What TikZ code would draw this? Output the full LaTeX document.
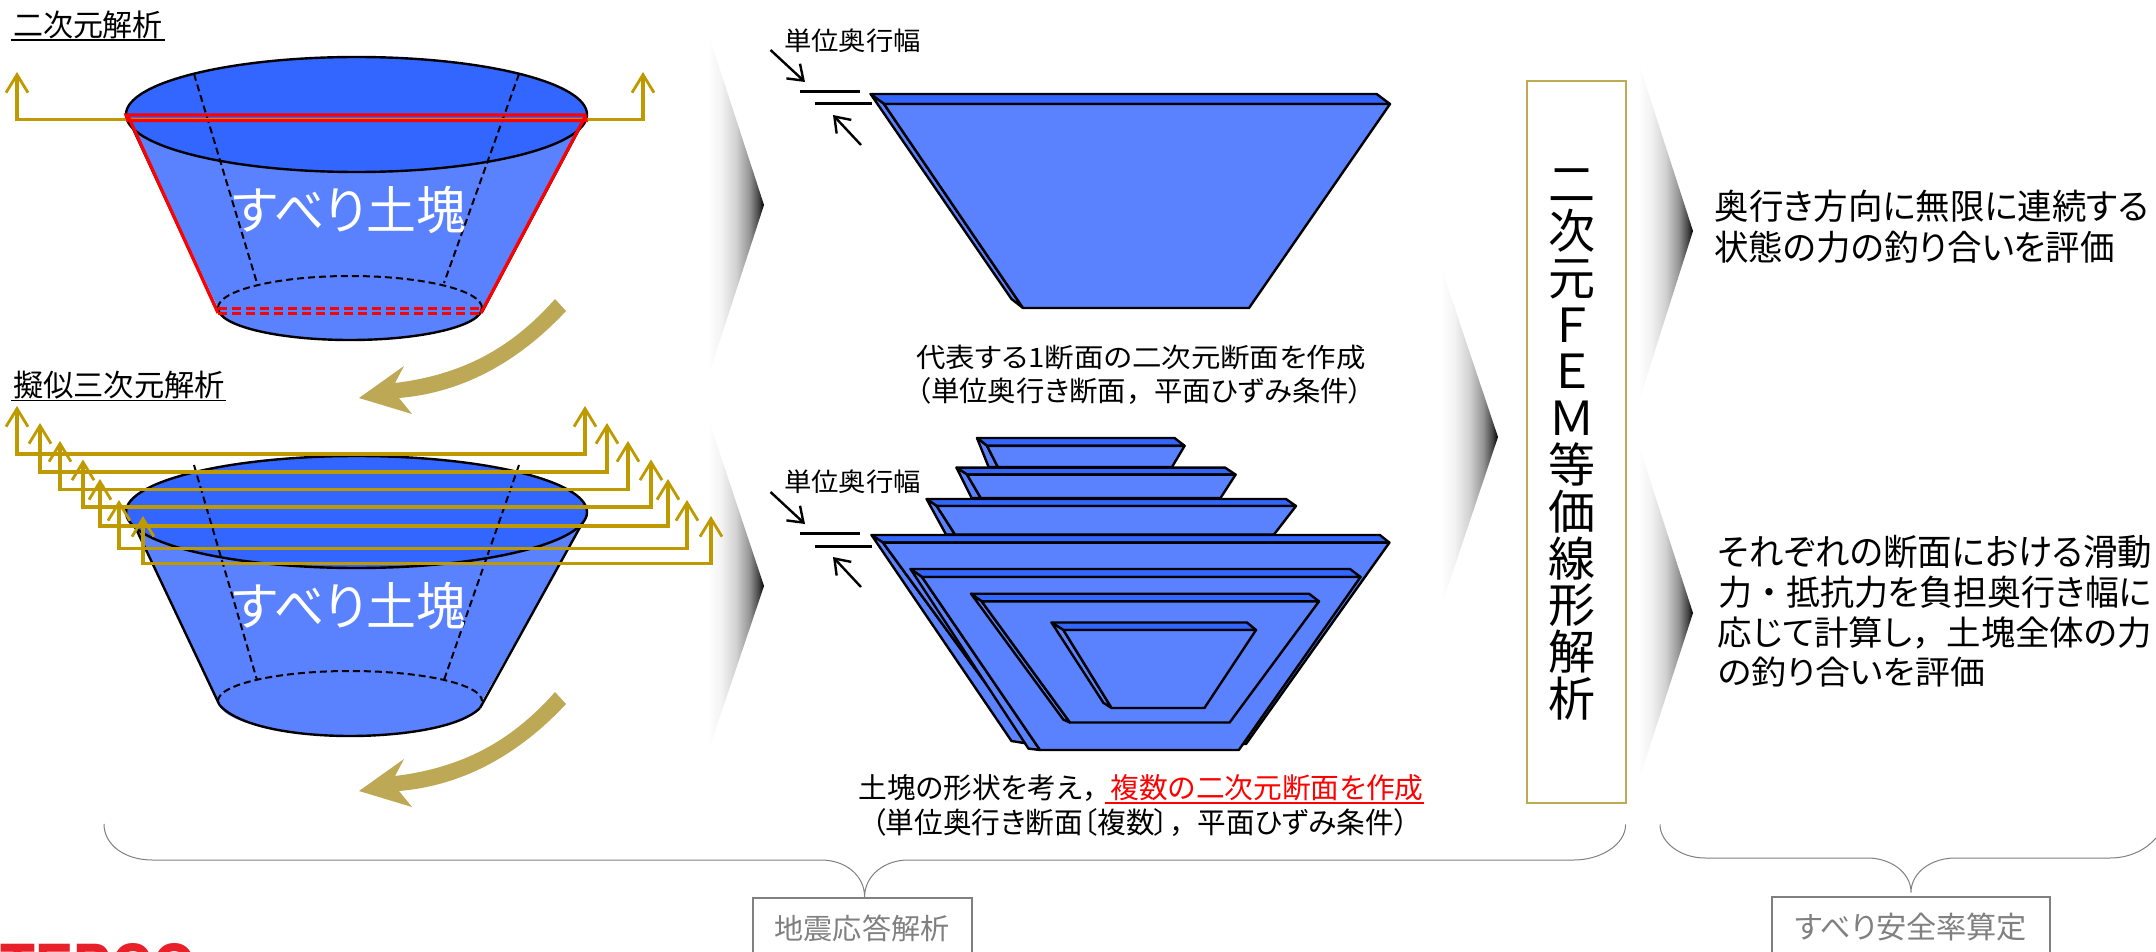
\documentclass[tikz,border=0pt]{standalone}
\usepackage{fontspec}
\usepackage{graphicx}
\usetikzlibrary{arrows.meta}
\newfontfamily\jp[RawFeature=+palt]{Noto Sans CJK JP}
\newfontfamily\jpfull{Noto Sans CJK JP}
\newfontfamily\logofont[Scale=1]{Liberation Sans}
\definecolor{topblue}{HTML}{3366FF}
\definecolor{bodyblue}{HTML}{5A82FF}
\definecolor{goldline}{HTML}{BF9900}
\definecolor{olive}{HTML}{BCA855}
\definecolor{boxgold}{HTML}{BFA952}
\definecolor{bracegray}{HTML}{808080}
\definecolor{logored}{HTML}{E8202A}
\pgfdeclarehorizontalshading{chevshade}{100bp}{color(0bp)=(white); color(25bp)=(white); color(37bp)=(black!5); color(50bp)=(black!18); color(62bp)=(black!42); color(70bp)=(black!72); color(75bp)=(black); color(100bp)=(black)}
\newcommand{\fit}[3]{\resizebox*{#1pt}{\dimexpr#2pt*108/100\relax}{\jp #3}}
\newcommand{\cm}{{\jpfull ，}}
% back TL, back TR, front TR, front TL, front BR, front BL, back BL
\newcommand{\slab}[7]{%
  \draw[edge,fill=topblue] #1 -- #2 -- #3 -- #4 -- cycle;
  \draw[edge,fill=bodyblue] #1 -- #7 -- #6 -- #4 -- cycle;
  \draw[edge,fill=bodyblue] #4 -- #3 -- #5 -- #6 -- cycle;
}
\newcommand{\chev}[5]{\shade[shading=chevshade] (#1,#2) -- (#3,#4) -- (#1,#5) -- cycle;}
\newcommand{\goldarrow}[4]{\draw[goldarr] (#1,#4) -- (#1,#3) -- (#2,#3) -- (#2,#4);}
\newcommand{\bigarrow}[1]{%
  \fill[olive,yshift=-#1pt] (555,299) .. controls (510,350) and (460,375) .. (395,383)
    -- (404,366) -- (359,398) -- (412,414) -- (399,398)
    .. controls (470,392) and (525,355) .. (566,311) -- cycle;}
\tikzset{
  x=1pt,y=-1pt,
  edge/.style={draw=black,line width=2.4pt,line join=round},
  txt/.style={inner sep=0pt,outer sep=0pt,anchor=center},
  goldarr/.style={draw=goldline,line width=3.6pt,line join=miter,{Straight Barb[length=18pt,width=22pt,line width=2.8pt]}-{Straight Barb[length=18pt,width=22pt,line width=2.8pt]}},
  thinarr/.style={draw=black,line width=2.4pt,-{Straight Barb[length=14pt,width=20pt]}},
  thickbar/.style={draw=black,line width=3pt},
  outline/.style={draw=black,line width=2.4pt},
  dashline/.style={draw=black,line width=2pt,dash pattern=on 7pt off 4pt},
  redline/.style={draw=red,line width=3.2pt},
  reddash/.style={draw=red,line width=3pt,dash pattern=on 9pt off 5pt},
  brace/.style={draw=bracegray,line width=1pt},
  graybox/.style={draw=bracegray,line width=1.6pt,fill=white},
}
\begin{document}
\begin{tikzpicture}
\useasboundingbox (0,0) rectangle (2156,952);
\clip (0,0) rectangle (2156,952);
\fill[white] (0,0) rectangle (2156,952);

% chevrons
\chev{708}{33}{764}{205}{377}
\chev{708}{418}{764}{586}{752}
\chev{1441}{267}{1498}{437}{607}
\chev{1638}{61}{1693}{231}{404}
\chev{1638}{443}{1693}{613}{783}

% first solid
\fill[bodyblue] (128,116) -- (218,308) arc[start angle=180,end angle=0,x radius=132,y radius=32] -- (585,116) -- cycle;
\draw[outline] (218,308) arc[start angle=180,end angle=0,x radius=132,y radius=32];
\draw[outline] (129,120) -- (218,312);
\draw[outline] (584,120) -- (482,312);
\draw[dashline] (218,308) arc[start angle=180,end angle=360,x radius=132,y radius=32];
\draw[outline,fill=topblue] (356.5,114.5) ellipse[x radius=230.5,y radius=57.5];
\draw[dashline] (194,74) -- (257,283);
\draw[dashline] (519,74) -- (444,283);
\node[txt,text=white] (slipA) at (349,210) {\fit{234}{44}{すべり土塊}};
\goldarrow{17}{643}{119.5}{72}
\draw[redline] (126,115) -- (585,115) -- (586,120.5) -- (128,120.5) -- cycle;
\draw[redline] (128,116) -- (218,313);
\draw[redline] (585,117) -- (481,313);
\draw[reddash] (218,308) -- (481,308);
\draw[reddash] (218,313) -- (481,313);

% second solid
\fill[bodyblue] (129.5,515) -- (218,701) arc[start angle=180,end angle=0,x radius=132,y radius=35] -- (586.8,515) -- cycle;
\draw[outline] (219.5,705) .. controls (240,728) and (300,736) .. (350,736) .. controls (400,736) and (460,728) .. (480,708);
\draw[outline] (129.5,515) -- (219.5,705);
\draw[outline] (586.8,515) -- (480,708);
\draw[dashline] (218,701) arc[start angle=180,end angle=360,x radius=132,y radius=30];
\draw[outline,fill=topblue] (356.5,512) ellipse[x radius=230.5,y radius=56];
\draw[dashline] (194,465) -- (257,680);
\draw[dashline] (519,465) -- (444,680);
\node[txt,text=white] (slipB) at (349,606) {\fit{234}{44}{すべり土塊}};
\goldarrow{17}{585}{453.7}{406}
\goldarrow{40}{607}{472}{423}
\goldarrow{60}{628}{489.5}{441}
\goldarrow{83}{651}{507}{459.5}
\goldarrow{100}{668}{526}{479}
\goldarrow{119}{687}{548.5}{500}
\goldarrow{143}{711}{563.5}{516}

% big curved arrows
\bigarrow{0}
\bigarrow{393}

% headings
\node[txt] (headA) at (88,25) {\fit{150}{26}{二次元解析}};
\draw[draw=black,line width=1.6pt] (11,40) -- (165,40);
\node[txt] (headB) at (119,385) {\fit{212}{26}{擬似三次元解析}};
\draw[draw=black,line width=1.6pt] (11,400.5) -- (226,400.5);

% single section
\node[txt] (unitA) at (852.5,41) {\fit{137}{22}{単位奥行幅}};
\coordinate (ua1) at (770.5,50); \coordinate (ua2) at (805,82);
\coordinate (ua3) at (861,145); \coordinate (ua4) at (833,115);
\draw[thinarr] (ua1) -- (ua2);
\draw[thinarr] (ua3) -- (ua4);
\draw[thickbar] (800,92) -- (860,92);
\draw[thickbar] (815,104) -- (872,104);
\slab{(870.6,94)}{(1376.6,94)}{(1390,104)}{(884,104)}{(1249,308)}{(1023,308)}{(1011.5,299)}
\node[txt] (capA1) at (1141,357) {\fit{449}{23}{代表する1断面の二次元断面を作成}};
\node[txt] (capA2) at (1140,391) {\fit{446}{25}{（単位奥行き断面\cm 平面ひずみ条件）}};

% multiple sections
\node[txt] (unitB) at (852.5,482) {\fit{137}{22}{単位奥行幅}};
\coordinate (ub1) at (770.5,492); \coordinate (ub2) at (805,524);
\coordinate (ub3) at (861,587); \coordinate (ub4) at (833,557);
\draw[thinarr] (ub1) -- (ub2);
\draw[thinarr] (ub3) -- (ub4);
\draw[thickbar] (800,533.5) -- (860,533.5);
\draw[thickbar] (815,546) -- (872,546);
\slab{(977,438)}{(1174.5,438)}{(1184.6,445.8)}{(987,445.8)}{(1172,467)}{(997.8,467)}{(988.6,467)}
\slab{(956.5,467.6)}{(1225,467.6)}{(1235.6,474.6)}{(967,474.6)}{(1220.5,498)}{(980.8,498)}{(971.6,498)}
\slab{(926.6,499)}{(1286,499)}{(1296,506)}{(936.7,506)}{(1274,534.5)}{(955,534.5)}{(946,534.5)}
\slab{(871.5,535)}{(1379.8,535)}{(1389.4,542.6)}{(883,542.6)}{(1246,744)}{(1030,744)}{(1011.5,741)}
\slab{(910.5,569)}{(1350,569)}{(1360.5,577)}{(922,577)}{(1238.8,750)}{(1040,750)}{(1028.5,748.6)}
\slab{(971,593.7)}{(1309,593.7)}{(1319,601.4)}{(981.7,601.4)}{(1229.6,722.5)}{(1070,722.5)}{(1063.4,719.7)}
\slab{(1051.5,622.5)}{(1247,622.5)}{(1256,630)}{(1063.4,630)}{(1204.4,708)}{(1111.6,708)}{(1103.4,702.8)}
\node[txt] (capB1) at (1141,788.5) {\fit{565}{25}{土塊の形状を考え\cm\textcolor{red}{複数の二次元断面を作成}}};
\draw[draw=red,line width=1.6pt] (1105,803) -- (1424,803);
\node[txt] (capB2) at (1140,823) {\fit{537}{26}{（単位奥行き断面〔複数〕\cm 平面ひずみ条件）}};

% FEM box
\node[draw=boxgold,line width=2pt,fill=white,minimum width=99pt,minimum height=722pt,inner sep=0pt] (fembox) at (1576.5,442) {};
\node[txt,align=center,font=\jpfull\fontsize{47}{46.8}\selectfont] (femtext) at (1572,444.5) {二\\次\\元\\Ｆ\\Ｅ\\Ｍ\\等\\価\\線\\形\\解\\析};

% right text
\node[txt] (r1) at (1931.6,206) {\fit{434}{30}{奥行き方向に無限に連続する}};
\node[txt] (r2) at (1914.6,247) {\fit{400}{30}{状態の力の釣り合いを評価}};
\node[txt] (r3) at (1935,551.6) {\fit{434}{31}{それぞれの断面における滑動}};
\node[txt] (r4) at (1935,592) {\fit{434}{30}{力{\jpfull ・}抵抗力を負担奥行き幅に}};
\node[txt] (r5) at (1935,633) {\fit{434}{30}{応じて計算し\cm 土塊全体の力}};
\node[txt] (r6) at (1851.5,672.5) {\fit{267}{28}{の釣り合いを評価}};

% braces
\draw[brace] (104,824) .. controls (104,845) and (125,860) .. (152,860) -- (821,860) .. controls (845,860) and (864.6,875) .. (864.6,897) .. controls (864.6,875) and (885,860) .. (908,860) -- (1574,860) .. controls (1600,860) and (1625.6,845) .. (1625.6,824.5);
\draw[brace] (1660,824.5) .. controls (1660,842) and (1680,858) .. (1705,858) -- (1867.6,858) .. controls (1890,858) and (1911,872) .. (1911,892.5) .. controls (1911,872) and (1932,858) .. (1955,858) -- (2110,858) .. controls (2135,858) and (2150,845) .. (2156,838);

% bottom boxes
\draw[graybox] (753,898) rectangle (972,960);
\node[txt,text=bracegray] (boxA) at (862,928) {\fit{175}{25}{地震応答解析}};
\draw[graybox] (1772,897) rectangle (2050,960);
\node[txt,text=bracegray] (boxB) at (1911,927.5) {\fit{232}{26}{すべり安全率算定}};

% logo (cut off by the page edge)
\node[inner sep=0pt,anchor=north west,text=logored] (logo) at (0,943) {\resizebox{197pt}{50pt}{\logofont\bfseries TEPCO}};
\end{tikzpicture}
\end{document}
